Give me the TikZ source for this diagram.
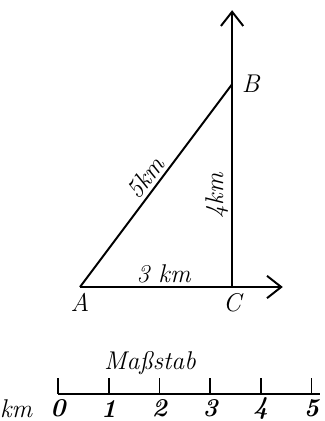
\documentclass[tikz,border=0pt]{standalone}
\usetikzlibrary{arrows.meta}
\begin{document}
\begin{tikzpicture}[x=1cm,y=1cm,>={Straight Barb[length=2.8mm,width=4.4mm]},font=\Large\itshape]
    \useasboundingbox (-1.578,-2.643) rectangle (4.813,5.661);
    % --- triangolo ---
    \coordinate (A) at (0,0);
    \coordinate (C) at (3,0);
    \coordinate (B) at (3,4);
    \coordinate (ex) at (4.0,0);
    \coordinate (ey) at (3,5.46);
    \draw[line width=1.1pt,->] (A) -- (ex);
    \draw[line width=1.1pt,->] (C) -- (ey);
    \draw[line width=1.1pt] (A) -- (B) node[midway,above,sloped,inner sep=2pt] (lAB) {5km};
    \path (C) -- (B) node[pos=0.45,above,sloped,inner sep=2pt] (lCB) {4km};
    \path (A) -- (C) node[pos=0.55,above,inner sep=2pt] (lAC) {3 km};
    \node[below] (nA) at (A) {A};
    \node[below] (nC) at (C) {C};
    \node[right=2pt] (nB) at (B) {B};
    % --- scala ---
    \draw[line width=1pt] (-0.434,-2.11) -- (4.73,-2.11);
    \foreach \i in {0,...,5}{\draw[line width=1pt] (-0.434+\i,-2.11) -- (-0.434+\i,-1.79);
        \node[inner sep=1pt] (s\i) at (-0.434+\i,-2.40) {\bfseries\i};}
    \node[inner sep=1pt] (km) at (-1.26,-2.40) {km};
    \node (titolo) at (1.38,-1.5) {Maßstab};
\end{tikzpicture}
\end{document}
